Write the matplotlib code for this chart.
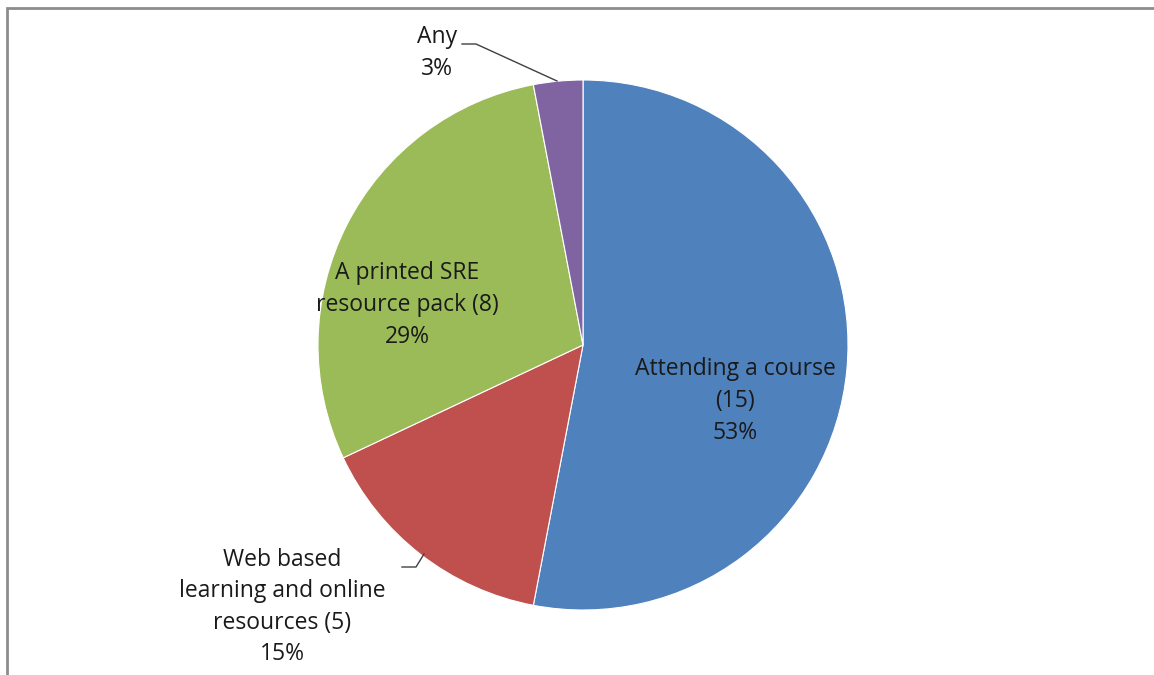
import matplotlib.pyplot as plt
from matplotlib.patches import Rectangle

plt.rcParams['font.family'] = ['Open Sans', 'DejaVu Sans']

labels = ['Attending a course\n(15)', 'Web based\nlearning and online\nresources (5)',
          'A printed SRE\nresource pack (8)', 'Any']
shares = [53, 15, 29, 3]
colors = ['#4F81BD', '#C0504D', '#9BBB59', '#8064A2']

W, H = 1154, 675
fig = plt.figure(figsize=(W / 100, H / 100), dpi=100)
ax = fig.add_axes([0, 0, 1, 1])
ax.axis('off')

cx, cy, r = 583, H - 345, 265
wedges, _ = ax.pie(shares, colors=colors, startangle=90, counterclock=False,
                   center=(cx, cy), radius=r,
                   wedgeprops=dict(edgecolor='white', linewidth=0.8))
ax.set_xlim(0, W)
ax.set_ylim(0, H)
ax.set_aspect('equal')

# outer chart border (cropped on right/bottom)
ax.add_patch(Rectangle((7, -20), W + 50, H - 8 + 20, fill=False,
                       edgecolor='#8c8c8c', linewidth=2, clip_on=False))

fs = 16.5
texts = [f'{l}\n{s}%' for l, s in zip(labels, shares)]
pos = [(735, H - 401), (282, H - 607), (407, H - 305), (437, H - 53)]
for t, (x, y) in zip(texts, pos):
    ax.text(x, y, t, ha='center', va='center', fontsize=fs,
            color='#1a1a1a', linespacing=1.42)

# leader lines
ax.plot([462, 476, 557], [H - 44, H - 44, H - 81], color='#404040', lw=1)
ax.plot([402, 416, 424], [H - 567, H - 567, H - 554], color='#404040', lw=1)

fig.savefig('out.png', dpi=100)
